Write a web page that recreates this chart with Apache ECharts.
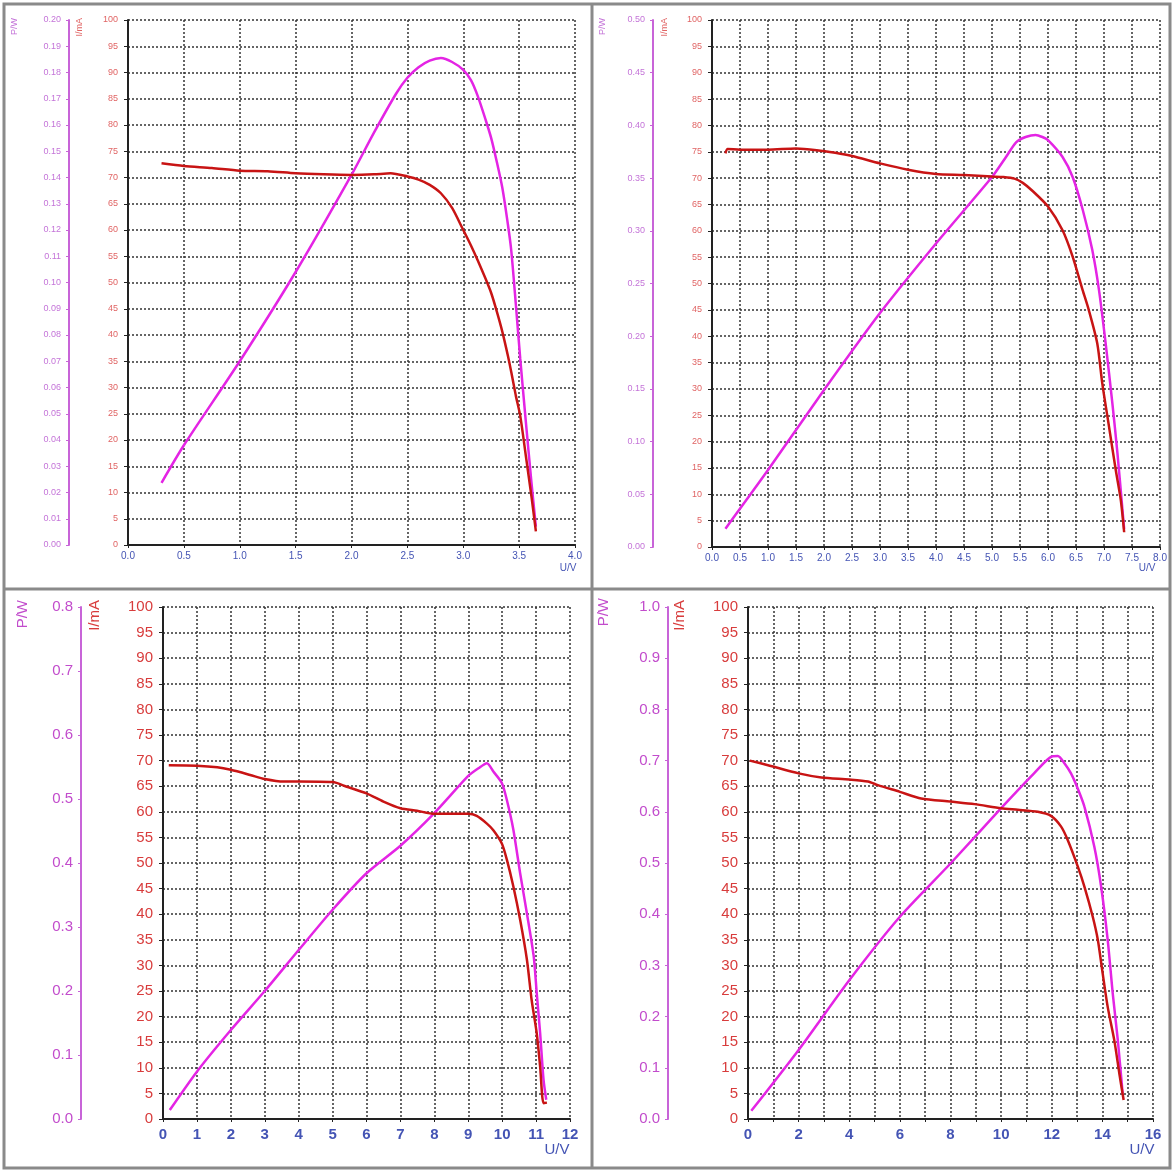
<!DOCTYPE html>
<html lang="en">
<head>
  <meta charset="UTF-8">
  <title>I-U / P-U curves</title>
  <script src="https://cdn.jsdelivr.net/npm/echarts@6.0.0/dist/echarts.min.js"></script>
</head>
<style>
    html, body { margin: 0; padding: 0; background: #fff; }
    #main {
        width: 1174px;
        height: 1171px;
    }
</style>
<body>
<div id="main"></div>
<script>
  // [U/V, I/mA] and [U/V, P/W]
  let cur1 = [[0.30,72.7],[0.5,72.2],[0.75,71.8],[1.0,71.3],[1.25,71.2],[1.5,70.8],[1.75,70.6],[2.0,70.5],[2.2,70.6],[2.35,70.8],[2.5,70.2],[2.6,69.6],[2.7,68.6],[2.8,67.0],[2.9,64.2],[3.0,60.0],[3.07,57.0],[3.13,54.2],[3.2,50.7],[3.25,48.0],[3.3,44.5],[3.35,40.6],[3.4,36.0],[3.43,32.9],[3.47,28.5],[3.51,24.6],[3.56,17.0],[3.61,9.3],[3.65,2.6]]
  let pow1 = [[0.30,0.0237],[0.5,0.038],[1.0,0.070],[1.5,0.104],[2.0,0.141],[2.2,0.157],[2.4,0.172],[2.5,0.178],[2.6,0.182],[2.7,0.1845],[2.8,0.1855],[2.9,0.184],[3.0,0.181],[3.07,0.177],[3.13,0.171],[3.2,0.162],[3.25,0.155],[3.3,0.146],[3.35,0.136],[3.4,0.122],[3.43,0.112],[3.47,0.092],[3.51,0.071],[3.56,0.047],[3.61,0.024],[3.65,0.007]]

  let cur2 = [[0.24,74.7],[0.28,75.5],[0.5,75.4],[1.0,75.4],[1.5,75.6],[1.87,75.3],[2.2,74.8],[2.5,74.2],[3.0,72.8],[3.5,71.6],[4.0,70.8],[4.5,70.6],[5.0,70.3],[5.2,70.2],[5.4,69.9],[5.55,69.1],[5.72,67.6],[6.0,64.6],[6.26,60.1],[6.44,55.1],[6.62,48.7],[6.73,44.9],[6.88,38.6],[6.97,31.0],[7.09,22.8],[7.21,14.6],[7.30,8.9],[7.36,2.8]]
  let pow2 = [[0.24,0.0174],[1.0,0.073],[2.0,0.149],[3.0,0.222],[4.0,0.288],[5.0,0.351],[5.25,0.370],[5.43,0.384],[5.6,0.389],[5.78,0.391],[5.9,0.389],[6.0,0.386],[6.26,0.370],[6.44,0.351],[6.62,0.320],[6.79,0.282],[6.91,0.244],[7.03,0.193],[7.15,0.136],[7.24,0.089],[7.33,0.035],[7.36,0.017]]

  let cur3 = [[0.17,69.1],[1.0,69.0],[1.6,68.7],[2.0,68.2],[2.57,67.2],[3.0,66.4],[3.56,65.9],[4.0,65.9],[5.0,65.8],[5.42,64.9],[6.0,63.6],[6.5,62.0],[7.0,60.7],[7.49,60.2],[8.0,59.6],[8.47,59.6],[9.0,59.6],[9.25,59.2],[9.55,57.7],[9.74,56.4],[9.99,53.8],[10.14,50.6],[10.33,45.4],[10.53,38.9],[10.73,31.1],[10.87,23.2],[11.02,16.7],[11.12,10.2],[11.22,3.1],[11.32,3.2]]
  let pow3 = [[0.2,0.014],[1.0,0.074],[2.0,0.139],[3.0,0.200],[4.0,0.264],[5.0,0.327],[6.0,0.384],[7.0,0.427],[8.0,0.478],[9.0,0.536],[9.3,0.548],[9.55,0.556],[9.74,0.543],[9.99,0.525],[10.14,0.498],[10.33,0.452],[10.53,0.384],[10.73,0.321],[10.93,0.254],[11.02,0.196],[11.12,0.134],[11.22,0.061],[11.30,0.030]]

  let cur4 = [[0.07,70.0],[0.79,69.1],[2.0,67.5],[2.9,66.7],[4.0,66.3],[4.74,65.9],[5.13,65.2],[6.0,63.9],[6.84,62.6],[8.0,62.0],[8.95,61.5],[10.0,60.7],[10.66,60.4],[11.45,60.0],[11.97,59.2],[12.37,57.1],[12.63,54.5],[13.03,49.3],[13.29,45.4],[13.62,39.5],[13.82,35.0],[14.01,28.5],[14.21,21.9],[14.47,15.4],[14.67,8.9],[14.84,3.7]]
  let pow4 = [[0.13,0.016],[2.0,0.135],[4.0,0.271],[6.0,0.395],[8.0,0.499],[10.0,0.607],[11.3,0.675],[12.0,0.708],[12.24,0.709],[12.5,0.695],[12.76,0.675],[13.03,0.645],[13.29,0.61],[13.68,0.532],[13.95,0.454],[14.21,0.35],[14.41,0.245],[14.61,0.154],[14.80,0.05]]

  // axis ranges: [max, step]
  let uRange = [[4, 0.5], [8, 0.5], [12, 1], [16, 1]]
  let pRange = [[0.2, 0.01], [0.5, 0.05], [0.8, 0.1], [1.0, 0.1]]

  const font = 'Liberation Sans, Arial, sans-serif'
  const RED = '#c81414'
  const MAG = '#e424e4'

  // panel layout (pixels)
  let panels = [
    { left: 128, top: 20, width: 447, height: 525, pOff: 59, small: true },
    { left: 712, top: 20, width: 448, height: 527, pOff: 59, small: true },
    { left: 163, top: 607, width: 407, height: 512, pOff: 82, small: false },
    { left: 748, top: 607, width: 405, height: 512, pOff: 80, small: false }
  ]
  let curData = [cur1, cur2, cur3, cur4]
  let powData = [pow1, pow2, pow3, pow4]

  let grids = [], xAxes = [], yAxes = [], series = []

  panels.forEach((p, k) => {
    let fs = p.small ? 9 : 15
    let xfs = p.small ? 10 : 15
    grids.push({ left: p.left, top: p.top, width: p.width, height: p.height, outerBoundsMode: 'none' })
    xAxes.push({
      type: 'value', gridIndex: k, min: 0, max: uRange[k][0], interval: uRange[k][1],
      axisLine: { lineStyle: { color: '#222', width: 2 } },
      axisTick: { length: 3, lineStyle: { color: '#222' } },
      axisLabel: {
        color: '#4454b4', fontFamily: font, fontSize: xfs, margin: p.small ? 6 : 8,
        fontWeight: p.small ? 'normal' : 'bold',
        formatter: v => {
          if (k === 3) return (Math.round(v) % 2 === 0) ? String(Math.round(v)) : ''
          if (k === 2) return String(Math.round(v))
          return v.toFixed(1)
        }
      },
      splitLine: { show: true, lineStyle: { color: '#333', type: [2, 2], width: 1.5 } }
    })
    // I/mA axis
    yAxes.push({
      type: 'value', gridIndex: k, position: 'left', min: 0, max: 100, interval: 5,
      axisLine: { show: true, lineStyle: { color: '#222', width: 2 } },
      axisTick: { show: true, length: 4, lineStyle: { color: '#222' } },
      axisLabel: { color: p.small ? '#e06464' : '#d83c3c', fontFamily: font, fontSize: fs, margin: 10 },
      splitLine: { show: true, lineStyle: { color: '#333', type: [2, 2], width: 1.5 } }
    })
    // P/W axis
    yAxes.push({
      type: 'value', gridIndex: k, position: 'left', offset: p.pOff,
      min: 0, max: pRange[k][0], interval: pRange[k][1],
      axisLine: { show: true, lineStyle: { color: '#c864d8', width: 2 } },
      axisTick: { show: true, length: 3, lineStyle: { color: '#c864d8' } },
      axisLabel: {
        color: p.small ? '#c474d8' : '#c24ccc', fontFamily: font, fontSize: fs, margin: 8,
        formatter: v => v.toFixed(k === 0 || k === 1 ? 2 : 1)
      },
      splitLine: { show: false }
    })
    series.push({
      type: 'line', xAxisIndex: k, yAxisIndex: 2 * k + 1, data: powData[k],
      showSymbol: false, smooth: 0.25, lineStyle: { color: MAG, width: 2.5 }, z: 3
    })
    series.push({
      type: 'line', xAxisIndex: k, yAxisIndex: 2 * k, data: curData[k],
      showSymbol: false, smooth: 0.25, lineStyle: { color: RED, width: 2.5 }, z: 4
    })
  })

  // rotated axis titles and U/V labels
  function vText(x, y, text, color, size) {
    return { type: 'text', x: x, y: y, rotation: Math.PI / 2,
      style: { text: text, fill: color, fontSize: size, fontFamily: font, align: 'right', verticalAlign: 'middle' } }
  }
  function hText(x, y, text, size) {
    return { type: 'text', x: x, y: y,
      style: { text: text, fill: '#4454b4', fontSize: size, fontFamily: font, align: 'center', verticalAlign: 'middle' } }
  }

  let graphics = [
    { type: 'rect', shape: { x: 4, y: 4, width: 1166, height: 1164 }, style: { fill: 'none', stroke: '#8a8a8a', lineWidth: 3 } },
    { type: 'line', shape: { x1: 592, y1: 4, x2: 592, y2: 1168 }, style: { stroke: '#8a8a8a', lineWidth: 3 } },
    { type: 'line', shape: { x1: 4, y1: 589, x2: 1170, y2: 589 }, style: { stroke: '#8a8a8a', lineWidth: 3 } },
    vText(15, 18, 'P/W', '#c474d8', 9),
    vText(80, 18, 'I/mA', '#e06464', 9),
    vText(603, 18, 'P/W', '#c474d8', 9),
    vText(665, 18, 'I/mA', '#e06464', 9),
    vText(23, 600, 'P/W', '#c24ccc', 15),
    vText(95, 600, 'I/mA', '#d83c3c', 15),
    vText(604, 598, 'P/W', '#c24ccc', 15),
    vText(680, 600, 'I/mA', '#d83c3c', 15),
    hText(568, 568, 'U/V', 10),
    hText(1147, 568, 'U/V', 10),
    hText(557, 1150, 'U/V', 15),
    hText(1142, 1150, 'U/V', 15)
  ]

  const chart = echarts.init(document.getElementById('main'))
  chart.setOption({
    backgroundColor: '#fff',
    animation: false,
    grid: grids,
    xAxis: xAxes,
    yAxis: yAxes,
    series: series,
    graphic: graphics
  })
</script>
</body>
</html>
